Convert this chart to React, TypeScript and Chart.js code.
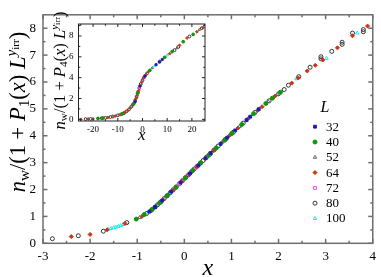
import React, { useEffect, useRef } from 'react';
import { Chart, registerables } from 'chart.js';

Chart.register(...registerables);

// ---------------- data ----------------
const SIZES = ['32', '40', '52', '64', '72', '80', '100'];

const MAIN_L32: number[][] = [
  [-0.74, 1.18], [-0.62, 1.35], [-0.47, 1.59], [-0.28, 1.92], [-0.08, 2.26], [0.12, 2.6], [0.3, 2.9],
  [0.45, 3.16], [0.56, 3.36], [0.77, 3.7], [0.91, 3.93], [1.08, 4.2], [1.32, 4.58], [1.4, 4.71], [1.58, 4.99],
];
const MAIN_L40: number[][] = [
  [-1.02, 0.9], [-0.85, 1.07], [-0.68, 1.27], [-0.52, 1.51], [-0.36, 1.78], [-0.18, 2.08], [0.02, 2.43],
  [0.18, 2.71], [0.35, 3.0], [0.52, 3.28], [0.68, 3.55], [0.86, 3.85], [1.01, 4.09], [1.22, 4.42],
  [1.47, 4.82], [1.73, 5.2], [1.87, 5.4], [2.04, 5.62],
];
const MAIN_L52: number[][] = [
  [-0.95, 0.96], [-0.72, 1.21], [-0.55, 1.47], [-0.38, 1.74], [-0.2, 2.05], [0.0, 2.4], [0.16, 2.67],
  [0.33, 2.96], [0.5, 3.25], [0.66, 3.52], [0.83, 3.8], [0.98, 4.04], [1.17, 4.34], [1.36, 4.65],
  [1.56, 4.96], [1.78, 5.27], [1.98, 5.54],
];
const MAIN_L64: number[][] = [
  [-2.4, 0.25], [-2.0, 0.33], [-1.64, 0.5], [-1.26, 0.74], [-0.9, 1.0], [-0.65, 1.3], [-0.45, 1.62],
  [-0.25, 1.96], [-0.06, 2.3], [0.1, 2.57], [0.27, 2.86], [0.44, 3.15], [0.62, 3.45], [0.8, 3.75],
  [0.96, 4.01], [1.14, 4.29], [1.34, 4.62], [1.55, 4.94], [1.65, 5.08], [1.93, 5.48], [2.28, 5.96],
  [2.42, 6.15], [2.61, 6.41], [2.78, 6.62], [2.94, 6.82], [3.25, 7.27], [3.57, 7.72], [3.89, 8.08],
];
const MAIN_L72: number[][] = [
  [-0.22, 2.02], [-0.12, 2.19], [-0.03, 2.35], [0.06, 2.5], [0.14, 2.64], [0.24, 2.81],
];
const MAIN_L80: number[][] = [
  [-2.8, 0.17], [-2.25, 0.28], [-1.72, 0.45], [-1.22, 0.77], [-0.8, 1.11], [-0.7, 1.23], [-0.62, 1.35],
  [-0.57, 1.43], [-0.5, 1.54], [-0.43, 1.66], [-0.37, 1.76], [-0.3, 1.88], [-0.24, 1.98], [-0.17, 2.1],
  [-0.1, 2.22], [-0.04, 2.33], [0.03, 2.45], [0.09, 2.55], [0.15, 2.66], [0.21, 2.76], [0.27, 2.86],
  [0.34, 2.98], [0.4, 3.08], [0.47, 3.2], [0.55, 3.33], [0.63, 3.47], [0.72, 3.62], [0.87, 3.86],
  [1.04, 4.13], [1.25, 4.47], [1.5, 4.87], [1.8, 5.3], [2.0, 5.56], [2.12, 5.72], [2.21, 5.88],
  [2.43, 6.2], [2.67, 6.55], [2.9, 6.94], [2.9, 6.86], [3.13, 7.14], [3.35, 7.48], [3.35, 7.4],
  [3.57, 7.82], [3.8, 7.95], [3.8, 7.87],
];
const MAIN_L100: number[][] = [
  [-1.62, 0.52], [-1.56, 0.55], [-1.5, 0.58], [-1.45, 0.6], [-1.4, 0.63], [-1.35, 0.66], [-1.3, 0.7],
  [-0.76, 1.16], [-0.58, 1.41], [-0.33, 1.83], [-0.02, 2.37], [2.38, 6.12], [3.02, 6.88], [3.67, 7.82],
];

const INSET_L32: number[][] = [[5.5, 5.25], [6.8, 5.5], [8, 5.75], [-3, 1.7], [-1, 3.2], [1, 4.15]];
const INSET_L40: number[][] = [
  [-18, 0.08], [-16, 0.12], [-8, 0.55], [-3.5, 1.5], [-2, 2.5], [3, 4.7], [9, 5.95], [12, 6.5],
  [16.5, 7.45], [20.5, 8.15],
];
const INSET_L52: number[][] = [[-20, 0.06], [-12, 0.27], [-5, 1.1], [0, 3.75], [4, 4.95], [14, 6.85], [23, 8.6]];
const INSET_L64: number[][] = [
  [-25, 0.0], [-22, 0.03], [-18, 0.09], [-14, 0.18], [-11, 0.32], [-9, 0.45], [-7, 0.68], [-6, 0.85],
  [-5, 1.08], [-4, 1.38], [-3.2, 1.62], [-2.6, 2.0], [-2.2, 2.3], [-1.6, 2.75], [-1, 3.2], [-0.4, 3.55],
  [0.4, 3.95], [1.5, 4.3], [2.5, 4.6], [11, 6.3], [15, 7.1], [18, 7.8], [22, 8.4], [24.5, 8.8],
];
const INSET_L72: number[][] = [[-1.2, 3.05], [0.5, 3.98]];
const INSET_L80: number[][] = [
  [-23, 0.02], [-21, 0.04], [-16.5, 0.11], [-15, 0.15], [-13, 0.22], [-12, 0.27], [-10, 0.38],
  [-8.5, 0.5], [-7.5, 0.6], [-6.5, 0.76], [-5.5, 0.95], [-4.5, 1.22], [-3.8, 1.45], [-3, 1.8],
  [-2.4, 2.15], [-1.8, 2.6], [-1.3, 3.0], [-0.7, 3.4], [0, 3.75], [0.8, 4.1], [1.8, 4.4], [7, 5.55],
  [13, 6.65], [14.5, 6.95], [19, 7.95], [24, 8.75],
];
const INSET_L100: number[][] = [[-9.5, 0.42], [-4.2, 1.3], [5, 5.15], [10, 6.15]];

const MAIN_SERIES = [MAIN_L32, MAIN_L40, MAIN_L52, MAIN_L64, MAIN_L72, MAIN_L80, MAIN_L100];
const INSET_SERIES = [INSET_L32, INSET_L40, INSET_L52, INSET_L64, INSET_L72, INSET_L80, INSET_L100];

const MAIN_X_MAJOR = [-3, -2, -1, 0, 1, 2, 3, 4];
const MAIN_X_MINOR = [-2.5, -1.5, -0.5, 0.5, 1.5, 2.5, 3.5];
const MAIN_Y_MAJOR = [0, 1, 2, 3, 4, 5, 6, 7, 8];
const MAIN_Y_MINOR = [0.5, 1.5, 2.5, 3.5, 4.5, 5.5, 6.5, 7.5];
const INSET_X_MAJOR = [-20, -10, 0, 10, 20];
const INSET_X_MINOR = [-25, -15, -5, 5, 15, 25];
const INSET_Y_MAJOR = [0, 2, 4, 6, 8];
const INSET_Y_MINOR = [1, 3, 5, 7, 9];

// ---------------- styles ----------------
const SERIF = '"Liberation Serif", "DejaVu Serif", serif';
type Sty = { shape: 'rect' | 'circle' | 'triangle' | 'rectRot'; color: string; filled: boolean };
const STYLES: Sty[] = [
  { shape: 'rect', color: '#1c1cb0', filled: true },
  { shape: 'circle', color: '#0c960c', filled: true },
  { shape: 'triangle', color: '#666666', filled: false },
  { shape: 'rectRot', color: '#cc3311', filled: true },
  { shape: 'rect', color: '#ff40ff', filled: false },
  { shape: 'circle', color: '#333333', filled: false },
  { shape: 'triangle', color: '#20e8e8', filled: false },
];

type Seg = { t: string; it?: boolean; s: number; dy?: number };

function segsWidth(ctx: CanvasRenderingContext2D, segs: Seg[]) {
  let w = 0;
  for (const g of segs) {
    ctx.font = `${g.it ? 'italic ' : ''}${g.s}px ${SERIF}`;
    w += ctx.measureText(g.t).width;
  }
  return w;
}

function drawSegs(ctx: CanvasRenderingContext2D, segs: Seg[], cx: number, cy: number, rotate: boolean) {
  ctx.save();
  ctx.translate(cx, cy);
  if (rotate) ctx.rotate(-Math.PI / 2);
  const w = segsWidth(ctx, segs);
  let x = -w / 2;
  ctx.fillStyle = '#000';
  ctx.textAlign = 'left';
  ctx.textBaseline = 'alphabetic';
  for (const g of segs) {
    ctx.font = `${g.it ? 'italic ' : ''}${g.s}px ${SERIF}`;
    ctx.fillText(g.t, x, g.dy || 0);
    x += ctx.measureText(g.t).width;
  }
  ctx.restore();
}

function yLabelSegs(f: number, idx: string): Seg[] {
  const sub = f * 0.68;
  const sub2 = f * 0.5;
  return [
    { t: 'n', it: true, s: f },
    { t: 'w', s: sub, dy: f * 0.17 },
    { t: '/(1 + ', s: f },
    { t: 'P', it: true, s: f },
    { t: idx, s: sub, dy: f * 0.17 },
    { t: '(', s: f },
    { t: 'x', it: true, s: f },
    { t: ') ', s: f },
    { t: 'L', it: true, s: f },
    { t: 'y', it: true, s: sub, dy: -f * 0.38 },
    { t: 'irr', s: sub2, dy: -f * 0.26 },
    { t: ')', s: f },
  ];
}

function drawMarker(ctx: CanvasRenderingContext2D, st: Sty, x: number, y: number, r: number) {
  ctx.save();
  ctx.beginPath();
  if (st.shape === 'rect') {
    const s = r * Math.SQRT1_2;
    ctx.rect(x - s, y - s, 2 * s, 2 * s);
  } else if (st.shape === 'rectRot') {
    ctx.moveTo(x, y - r);
    ctx.lineTo(x + r, y);
    ctx.lineTo(x, y + r);
    ctx.lineTo(x - r, y);
    ctx.closePath();
  } else if (st.shape === 'circle') {
    ctx.arc(x, y, r, 0, Math.PI * 2);
  } else {
    const h = r * 1.5;
    ctx.moveTo(x, y - r);
    ctx.lineTo(x + h * 0.58, y + r * 0.5);
    ctx.lineTo(x - h * 0.58, y + r * 0.5);
    ctx.closePath();
  }
  if (st.filled) {
    ctx.fillStyle = st.color;
    ctx.fill();
  }
  ctx.strokeStyle = st.color;
  ctx.lineWidth = 1;
  ctx.stroke();
  ctx.restore();
}

function makeDatasets(series: number[][][], radius: number) {
  return series.map((arr, i) => {
    const st = STYLES[i];
    return {
      label: SIZES[i],
      data: arr.map(([x, y]) => ({ x, y })),
      pointStyle: st.shape,
      pointRadius: radius,
      pointBorderWidth: 1,
      pointBackgroundColor: st.filled ? st.color : 'rgba(0,0,0,0)',
      pointBorderColor: st.color,
      showLine: false,
    };
  });
}

function framePlugin(cfg: {
  color: string; width: number; major: number; minor: number;
  xMajor: number[]; yMajor: number[]; bg?: string;
}) {
  return {
    id: 'frameTicks',
    beforeDatasetsDraw(chart: any) {
      if (!cfg.bg) return;
      const { ctx, chartArea: a } = chart;
      ctx.save();
      ctx.fillStyle = cfg.bg;
      ctx.fillRect(a.left, a.top, a.right - a.left, a.bottom - a.top);
      ctx.restore();
    },
    afterDatasetsDraw(chart: any) {
      const { ctx, chartArea: a, scales } = chart;
      ctx.save();
      ctx.strokeStyle = cfg.color;
      ctx.lineWidth = cfg.width;
      const line = (x1: number, y1: number, x2: number, y2: number) => {
        ctx.beginPath();
        ctx.moveTo(x1, y1);
        ctx.lineTo(x2, y2);
        ctx.stroke();
      };
      for (const t of scales.x.ticks) {
        const px = scales.x.getPixelForValue(t.value);
        const len = cfg.xMajor.includes(t.value) ? cfg.major : cfg.minor;
        line(px, a.bottom, px, a.bottom - len);
        line(px, a.top, px, a.top + len);
      }
      for (const t of scales.y.ticks) {
        const py = scales.y.getPixelForValue(t.value);
        const len = cfg.yMajor.includes(t.value) ? cfg.major : cfg.minor;
        line(a.left, py, a.left + len, py);
        line(a.right, py, a.right - len, py);
      }
      ctx.strokeRect(a.left, a.top, a.right - a.left, a.bottom - a.top);
      ctx.restore();
    },
  };
}

function MainChart() {
  const ref = useRef<HTMLCanvasElement>(null);
  useEffect(() => {
    const canvas = ref.current!;
    const labels = {
      id: 'mainLabels',
      afterDraw(chart: any) {
        const ctx = chart.ctx as CanvasRenderingContext2D;
        const a = chart.chartArea;
        drawSegs(ctx, yLabelSegs(22.5, '1'), 25, 112, true);
        drawSegs(ctx, [{ t: 'x', it: true, s: 24 }], (a.left + a.right) / 2, 275, false);
        // legend
        ctx.save();
        ctx.fillStyle = '#000';
        ctx.textBaseline = 'middle';
        ctx.textAlign = 'center';
        ctx.font = `italic 16px ${SERIF}`;
        ctx.fillText('L', 325, 108);
        ctx.textAlign = 'left';
        ctx.font = `13px ${SERIF}`;
        SIZES.forEach((s, i) => {
          const y = 126.7 + i * 15.3;
          drawMarker(ctx, STYLES[i], 315, y, 2);
          ctx.fillText(s, 326, y + 0.5);
        });
        ctx.restore();
      },
    };
    const chart = new Chart(canvas, {
      type: 'scatter',
      data: { datasets: makeDatasets(MAIN_SERIES, 2) as any },
      options: {
        animation: false,
        responsive: false,
        layout: { padding: { top: 2, right: 6, left: 0, bottom: 0 } },
        plugins: { legend: { display: false }, tooltip: { enabled: false } },
        scales: {
          x: {
            type: 'linear', min: -3, max: 4,
            afterBuildTicks: (sc: any) => {
              sc.ticks = [...MAIN_X_MAJOR, ...MAIN_X_MINOR].sort((p, q) => p - q).map((v) => ({ value: v }));
            },
            afterFit: (sc: any) => { sc.height = 33.7; },
            grid: { display: false, drawTicks: false },
            border: { display: false },
            ticks: {
              autoSkip: false, maxRotation: 0, padding: 5, color: '#000',
              font: { family: SERIF, size: 13 },
              callback: (v: any) => (MAIN_X_MAJOR.includes(v) ? String(v) : ''),
            },
          },
          y: {
            type: 'linear', min: 0, max: 8.5,
            afterBuildTicks: (sc: any) => {
              sc.ticks = [...MAIN_Y_MAJOR, ...MAIN_Y_MINOR].sort((p, q) => p - q).map((v) => ({ value: v }));
            },
            afterFit: (sc: any) => { sc.width = 43; },
            grid: { display: false, drawTicks: false },
            border: { display: false },
            ticks: {
              autoSkip: false, padding: 7, color: '#000',
              font: { family: SERIF, size: 13 },
              callback: (v: any) => (MAIN_Y_MAJOR.includes(v) ? String(v) : ''),
            },
          },
        },
      },
      plugins: [
        framePlugin({ color: '#6e6e6e', width: 1.5, major: 4.5, minor: 2.5, xMajor: MAIN_X_MAJOR, yMajor: MAIN_Y_MAJOR }),
        labels,
      ],
    } as any);
    return () => chart.destroy();
  }, []);
  return <canvas ref={ref} width={381} height={277} style={{ position: 'absolute', left: 0, top: 0, width: 381, height: 277 }} />;
}

function InsetChart() {
  const ref = useRef<HTMLCanvasElement>(null);
  useEffect(() => {
    const canvas = ref.current!;
    const labels = {
      id: 'insetLabels',
      afterDraw(chart: any) {
        const ctx = chart.ctx as CanvasRenderingContext2D;
        const a = chart.chartArea;
        drawSegs(ctx, yLabelSegs(16.5, '4'), 19.5, (a.top + a.bottom) / 2 - 2, true);
        drawSegs(ctx, [{ t: 'x', it: true, s: 17 }], (a.left + a.right) / 2, 137, false);
      },
    };
    const chart = new Chart(canvas, {
      type: 'scatter',
      data: { datasets: makeDatasets(INSET_SERIES, 1.4) as any },
      options: {
        animation: false,
        responsive: false,
        layout: { padding: { top: 21, right: 3.5, left: 0, bottom: 0 } },
        plugins: { legend: { display: false }, tooltip: { enabled: false } },
        scales: {
          x: {
            type: 'linear', min: -25.9, max: 25.3,
            afterBuildTicks: (sc: any) => {
              sc.ticks = [...INSET_X_MAJOR, ...INSET_X_MINOR].sort((p, q) => p - q).map((v) => ({ value: v }));
            },
            afterFit: (sc: any) => { sc.height = 22; },
            grid: { display: false, drawTicks: false },
            border: { display: false },
            ticks: {
              autoSkip: false, maxRotation: 0, padding: 3, color: '#000',
              font: { family: SERIF, size: 9 },
              callback: (v: any) => (INSET_X_MAJOR.includes(v) ? String(v) : ''),
            },
          },
          y: {
            type: 'linear', min: -0.16, max: 9.15,
            afterBuildTicks: (sc: any) => {
              sc.ticks = [...INSET_Y_MAJOR, ...INSET_Y_MINOR].sort((p, q) => p - q).map((v) => ({ value: v }));
            },
            afterFit: (sc: any) => { sc.width = 33.5; },
            grid: { display: false, drawTicks: false },
            border: { display: false },
            ticks: {
              autoSkip: false, padding: 5, color: '#000',
              font: { family: SERIF, size: 9 },
              callback: (v: any) => (INSET_Y_MAJOR.includes(v) ? String(v) : ''),
            },
          },
        },
      },
      plugins: [
        framePlugin({ color: '#222222', width: 1, major: 3, minor: 1.8, xMajor: INSET_X_MAJOR, yMajor: INSET_Y_MAJOR, bg: '#ffffff' }),
        labels,
      ],
    } as any);
    return () => chart.destroy();
  }, []);
  return <canvas ref={ref} width={165} height={140} style={{ position: 'absolute', left: 45, top: 3, width: 165, height: 140 }} />;
}

export default function App() {
  return (
    <div style={{ position: 'absolute', left: 0, top: 0, width: 381, height: 277, background: '#fff' }}>
      <MainChart />
      <InsetChart />
    </div>
  );
}
